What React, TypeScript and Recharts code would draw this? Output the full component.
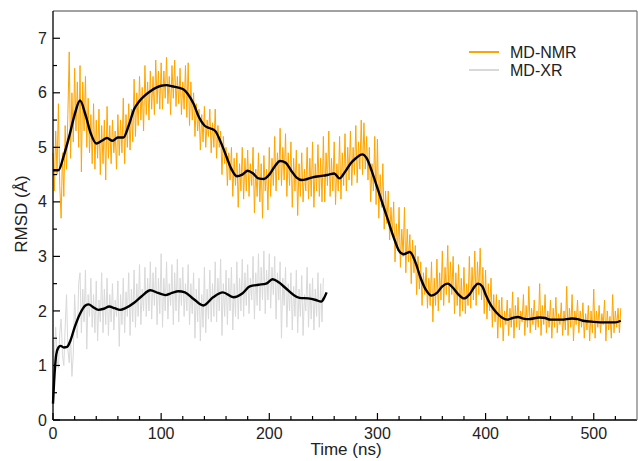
/* ============================================================
   RmsdTimeChart — RMSD over simulation time, MD-NMR vs MD-XR
   Raw traces + smoothed running curves, Recharts LineChart.
   ============================================================ */

import { LineChart, Line, XAxis, YAxis } from "recharts";

// raw traces are sampled every 1.25 ns starting at t = 0
const SAMPLE_STEP_NS = 1.25;

const NMR_RMSD = [
  4.9, 4.2, 5.3, 4.5, 5.8, 4.3, 3.7, 4.9, 4.1, 5.4, 4.6, 5.6, 6.75, 4.8, 6.0, 5.1, 6.45, 5.3, 6.2, 5.0,
  6.5, 4.55, 6.2, 5.3, 6.3, 5.0, 5.9, 4.9, 5.6, 4.7, 5.8, 4.6, 5.5, 4.8, 5.7, 4.5, 5.4, 4.7, 5.5, 4.4,
  5.75, 4.8, 5.4, 4.7, 5.5, 4.9, 5.3, 4.6, 5.6, 4.85, 5.5, 4.9, 5.9, 4.7, 5.6, 5.0, 5.8, 4.95, 5.7, 5.1,
  6.25, 5.2, 6.0, 5.4, 6.3, 5.5, 6.1, 5.3, 6.5, 5.6, 6.2, 5.5, 6.4, 5.7, 6.3, 5.6, 6.6, 5.8, 6.4, 5.7,
  6.55, 5.7, 6.4, 5.9, 6.65, 5.8, 6.3, 5.6, 6.5, 5.9, 6.6, 5.75, 6.3, 5.8, 6.45, 5.6, 6.2, 5.7, 6.5, 5.55,
  6.55, 5.4, 6.2, 5.5, 6.0, 5.2, 5.8, 5.3, 5.7, 4.95, 5.6, 5.1, 5.75, 5.0, 5.5, 5.2, 5.7, 4.9, 5.45, 5.0,
  5.7, 4.8, 5.4, 5.0, 5.3, 4.5, 5.2, 4.7, 5.0, 4.3, 4.9, 4.4, 5.0, 4.1, 4.8, 4.3, 4.9, 3.9, 4.7, 4.2,
  5.0, 4.05, 4.8, 4.2, 4.95, 4.1, 4.7, 4.3, 5.0, 3.8, 4.6, 4.1, 4.9, 4.0, 4.7, 3.7, 4.85, 4.2, 4.6, 3.85,
  5.0, 4.1, 4.8, 4.3, 5.2, 4.2, 4.9, 4.4, 5.35, 4.3, 5.0, 4.4, 5.25, 4.1, 4.9, 4.3, 5.1, 3.9, 4.8, 4.2,
  4.95, 3.75, 4.7, 4.1, 4.9, 4.0, 4.6, 4.2, 5.0, 4.05, 4.8, 4.1, 5.1, 3.9, 4.7, 4.2, 5.05, 4.1, 4.8, 4.0,
  5.2, 4.0, 4.9, 4.3, 5.3, 4.1, 4.8, 4.2, 5.1, 3.95, 4.7, 4.2, 5.2, 4.05, 4.9, 4.3, 5.25, 4.2, 5.0, 4.4,
  5.3, 4.3, 5.0, 4.5, 5.4, 4.35, 5.1, 4.6, 5.5, 4.5, 5.45, 4.6, 5.2, 4.4, 5.0, 4.0, 4.7, 4.2, 5.2, 3.95,
  5.15, 3.7, 4.5, 3.9, 4.7, 3.5, 4.2, 3.6, 4.2, 3.3, 3.9, 3.4, 4.0, 2.9, 3.6, 3.1, 3.9, 2.8, 3.5, 3.0,
  3.9, 2.7, 3.5, 2.9, 3.4, 2.5, 3.3, 2.7, 3.2, 2.3, 3.0, 2.4, 2.9, 2.1, 2.7, 2.3, 2.8, 2.05, 2.6, 2.1,
  2.9, 1.8, 2.6, 2.1, 2.95, 2.0, 2.7, 2.2, 3.1, 2.1, 2.8, 2.3, 3.2, 2.15, 2.9, 2.3, 3.0, 1.95, 2.7, 2.1,
  2.85, 1.9, 2.6, 2.0, 2.8, 1.95, 2.5, 2.1, 3.0, 2.05, 2.8, 2.2, 3.1, 2.1, 2.9, 2.3, 3.15, 2.2, 2.8, 1.95,
  2.75, 1.85, 2.5, 2.0, 2.6, 1.7, 2.3, 1.8, 2.3, 1.5, 2.2, 1.7, 2.25, 1.45, 2.0, 1.75, 2.2, 1.55, 2.05, 1.7,
  2.35, 1.5, 2.1, 1.7, 2.25, 1.65, 2.0, 1.8, 2.3, 1.55, 2.1, 1.7, 2.45, 1.6, 2.05, 1.75, 2.2, 1.65, 2.0, 1.7,
  2.5, 1.55, 2.1, 1.75, 2.3, 1.6, 2.0, 1.7, 2.2, 1.5, 2.05, 1.7, 2.25, 1.6, 1.95, 1.75, 2.15, 1.55, 2.0, 1.65,
  2.45, 1.55, 2.05, 1.7, 2.3, 1.45, 2.0, 1.75, 2.2, 1.6, 2.0, 1.7, 2.15, 1.5, 1.95, 1.65, 2.1, 1.45, 2.0, 1.6,
  2.4, 1.5, 2.0, 1.7, 2.1, 1.6, 1.95, 1.75, 2.2, 1.45, 2.0, 1.65, 1.9, 1.5, 2.3, 1.6, 2.0, 1.7, 2.05, 1.6,
  2.05,
];

const XR_RMSD = [
  0.3, 1.2, 1.7, 1.1, 0.95, 1.6, 1.85, 1.2, 1.0, 1.7, 2.3, 1.3, 1.05, 1.5, 0.8, 1.2, 2.3, 1.7, 1.5, 2.5,
  2.7, 1.6, 2.4, 1.8, 2.75, 1.3, 2.3, 1.9, 2.6, 1.7, 2.3, 1.6, 2.55, 1.45, 2.2, 1.8, 2.7, 1.6, 2.4, 1.75,
  2.6, 1.55, 2.3, 1.8, 2.5, 1.65, 2.2, 1.9, 2.55, 1.35, 2.3, 1.75, 2.6, 1.6, 2.35, 1.9, 2.7, 1.55, 2.4, 1.8,
  2.75, 1.7, 2.5, 1.9, 2.85, 1.75, 2.4, 2.0, 2.8, 1.9, 2.6, 2.0, 2.9, 1.85, 2.7, 2.1, 2.8, 1.75, 2.6, 1.95,
  3.05, 1.7, 2.6, 2.0, 2.9, 1.85, 2.5, 2.1, 2.85, 1.75, 2.7, 2.0, 2.95, 1.8, 2.6, 2.1, 2.8, 1.9, 2.5, 2.0,
  2.85, 1.75, 2.5, 1.95, 2.7, 1.5, 2.4, 1.8, 2.6, 1.45, 2.3, 1.7, 2.8, 1.6, 2.4, 1.85, 2.75, 1.8, 2.5, 1.9,
  2.9, 1.8, 2.6, 2.0, 2.95, 1.55, 2.5, 1.9, 2.75, 1.75, 2.6, 2.0, 2.8, 1.65, 2.5, 1.9, 2.9, 1.85, 2.6, 2.0,
  2.95, 1.9, 2.7, 2.1, 2.85, 1.95, 2.6, 2.2, 3.0, 1.85, 2.7, 2.1, 3.05, 2.0, 2.8, 2.2, 3.1, 1.95, 2.75, 2.2,
  3.05, 2.05, 2.8, 2.3, 3.0, 1.85, 2.7, 2.2, 2.9, 1.5, 2.6, 2.1, 2.8, 1.7, 2.5, 2.0, 2.7, 1.65, 2.45, 1.9,
  2.75, 1.6, 2.4, 1.9, 2.65, 1.55, 2.3, 2.0, 2.8, 1.7, 2.5, 1.85, 2.6, 1.65, 2.4, 1.9, 2.7, 1.7, 2.5, 1.8,
  2.6,
];

// smoothed (running average) curves
const NMR_SMOOTH_T = [
  0, 5, 10, 15, 20, 25, 30, 35, 40, 45, 50, 55, 60, 65, 70, 75, 80, 90, 100, 105,
  110, 120, 125, 130, 135, 140, 145, 150, 155, 160, 165, 170, 175, 180, 185, 190,
  195, 200, 205, 210, 215, 220, 225, 230, 235, 240, 250, 255, 260, 265, 270, 275,
  280, 286, 290, 295, 300, 305, 310, 315, 320, 324, 330, 335, 340, 345, 350, 355,
  360, 365, 370, 375, 380, 385, 390, 393, 397, 400, 405, 410, 415, 420, 425, 430,
  435, 440, 450, 455, 460, 470, 480, 485, 490, 500, 510, 520, 525,
];
const NMR_SMOOTH_V = [
  4.58, 4.58, 4.85, 5.2, 5.6, 5.86, 5.6, 5.25, 5.07, 5.12, 5.17, 5.12, 5.18, 5.18,
  5.4, 5.7, 5.85, 6.03, 6.13, 6.14, 6.12, 6.07, 5.97, 5.8, 5.55, 5.4, 5.35, 5.3,
  5.1, 4.85, 4.6, 4.47, 4.5, 4.57, 4.52, 4.43, 4.42, 4.5, 4.65, 4.75, 4.72, 4.58,
  4.45, 4.4, 4.42, 4.45, 4.48, 4.5, 4.52, 4.43, 4.55, 4.7, 4.8, 4.87, 4.8, 4.55,
  4.25, 3.95, 3.65, 3.35, 3.1, 3.04, 3.08, 2.9, 2.6, 2.38, 2.28, 2.33, 2.45, 2.5,
  2.42, 2.3, 2.23, 2.3, 2.45, 2.5, 2.45, 2.3, 2.1, 1.97, 1.88, 1.84, 1.87, 1.89,
  1.86, 1.85, 1.88, 1.87, 1.84, 1.84, 1.86, 1.85, 1.82, 1.8, 1.79, 1.79, 1.82,
];

const XR_SMOOTH_T = [
  0, 1, 2, 3, 5, 7, 10, 13, 16, 20, 25, 30, 33, 37, 42, 47, 52, 57, 62, 67, 75, 82,
  90, 97, 104, 110, 116, 122, 130, 139, 148, 157, 167, 175, 182, 190, 197, 203, 209,
  215, 222, 228, 236, 243, 248, 251, 253,
];
const XR_SMOOTH_V = [
  0.3, 0.7, 1.0, 1.2, 1.33, 1.36, 1.33, 1.34, 1.45, 1.7, 1.95, 2.1, 2.12, 2.07, 2.02,
  2.04, 2.08, 2.05, 2.02, 2.05, 2.15, 2.27, 2.38, 2.33, 2.29, 2.33, 2.36, 2.34, 2.22,
  2.1, 2.25, 2.34, 2.25, 2.32, 2.45, 2.48, 2.5, 2.58, 2.52, 2.42, 2.3, 2.24, 2.23,
  2.2, 2.17, 2.25, 2.34,
];

const X_TICKS = [
  0, 20, 40, 60, 80, 100, 120, 140, 160, 180, 200, 220, 240, 260, 280, 300, 320,
  340, 360, 380, 400, 420, 440, 460, 480, 500, 520,
];
const Y_TICKS = [0, 0.5, 1, 1.5, 2, 2.5, 3, 3.5, 4, 4.5, 5, 5.5, 6, 6.5, 7];

const SERIES_NAMES = ["MD-NMR", "MD-XR"];
const NMR_COLOR = "#ffa500";
const XR_COLOR = "#d9d9d9";
const FONT = "'Liberation Sans', Arial, Helvetica, sans-serif";

// plot box in page pixels
const PLOT = { left: 53, top: 11, right: 637, bottom: 420 };
const WIDTH = 638;
const HEIGHT = 461;

const toRaw = (vals: number[]) =>
  vals.map((v, i) => ({ t: i * SAMPLE_STEP_NS, v }));
const toPairs = (ts: number[], vs: number[]) =>
  ts.map((t, i) => ({ t, v: vs[i] }));

const XTick = (props: any) => {
  const { x, payload } = props;
  const major = payload.value % 100 === 0;
  return (
    <g>
      <line
        x1={x}
        x2={x}
        y1={PLOT.bottom}
        y2={PLOT.bottom - (major ? 7 : 4)}
        stroke="#000"
        strokeWidth={1.2}
      />
      {major && (
        <text
          x={x}
          y={PLOT.bottom + 19}
          textAnchor="middle"
          fill="#222"
          fontSize={16}
          fontFamily={FONT}
        >
          {payload.value}
        </text>
      )}
    </g>
  );
};

const YTick = (props: any) => {
  const { y, payload } = props;
  const major = Number.isInteger(payload.value);
  return (
    <g>
      <line
        x1={PLOT.left}
        x2={PLOT.left + (major ? 7 : 4)}
        y1={y}
        y2={y}
        stroke="#000"
        strokeWidth={1.2}
      />
      {major && (
        <text
          x={PLOT.left - 6}
          y={y}
          dy="0.35em"
          textAnchor="end"
          fill="#222"
          fontSize={16}
          fontFamily={FONT}
        >
          {payload.value}
        </text>
      )}
    </g>
  );
};

export default function App() {
  const nmrRaw = toRaw(NMR_RMSD);
  const xrRaw = toRaw(XR_RMSD);
  const nmrSmooth = toPairs(NMR_SMOOTH_T, NMR_SMOOTH_V);
  const xrSmooth = toPairs(XR_SMOOTH_T, XR_SMOOTH_V);

  return (
    <div
      style={{
        position: "absolute",
        left: 0,
        top: 0,
        width: WIDTH,
        height: HEIGHT,
        background: "#fff",
      }}
    >
      <LineChart
        width={WIDTH}
        height={HEIGHT}
        margin={{
          top: PLOT.top - 1,
          right: WIDTH - PLOT.right - 1,
          bottom: HEIGHT - PLOT.bottom - 1,
          left: PLOT.left - 1,
        }}
      >
        <XAxis
          dataKey="t"
          type="number"
          domain={[0, 540]}
          ticks={X_TICKS}
          interval={0}
          height={1}
          tick={XTick}
          tickLine={false}
          axisLine={{ stroke: "#000", strokeWidth: 1.3 }}
          allowDuplicatedCategory={false}
        />
        <XAxis
          xAxisId="top"
          orientation="top"
          dataKey="t"
          type="number"
          domain={[0, 540]}
          height={1}
          tick={false}
          tickLine={false}
          axisLine={{ stroke: "#444", strokeWidth: 1.2 }}
        />
        <YAxis
          type="number"
          domain={[0, 7.5]}
          ticks={Y_TICKS}
          interval={0}
          width={1}
          tick={YTick}
          tickLine={false}
          axisLine={{ stroke: "#000", strokeWidth: 1.3 }}
        />
        <YAxis
          yAxisId="right"
          orientation="right"
          type="number"
          domain={[0, 7.5]}
          width={1}
          tick={false}
          tickLine={false}
          axisLine={{ stroke: "#777", strokeWidth: 1.2 }}
        />

        <Line
          data={nmrRaw}
          dataKey="v"
          type="linear"
          stroke={NMR_COLOR}
          strokeWidth={1}
          dot={false}
          isAnimationActive={false}
        />
        <Line
          data={xrRaw}
          dataKey="v"
          type="linear"
          stroke={XR_COLOR}
          strokeWidth={1}
          dot={false}
          isAnimationActive={false}
        />
        <Line
          data={nmrSmooth}
          dataKey="v"
          type="monotone"
          stroke="#000"
          strokeWidth={2.4}
          dot={false}
          isAnimationActive={false}
        />
        <Line
          data={xrSmooth}
          dataKey="v"
          type="monotone"
          stroke="#000"
          strokeWidth={2.4}
          dot={false}
          isAnimationActive={false}
        />
      </LineChart>

      {/* axis titles + legend drawn on top */}
      <svg
        width={WIDTH}
        height={HEIGHT}
        style={{ position: "absolute", left: 0, top: 0, pointerEvents: "none" }}
      >
        <text
          x={346}
          y={455}
          textAnchor="middle"
          fill="#222"
          fontSize={17}
          fontFamily={FONT}
        >
          Time (ns)
        </text>
        <text
          transform="translate(27, 214) rotate(-90)"
          textAnchor="middle"
          fill="#222"
          fontSize={17}
          fontFamily={FONT}
        >
          RMSD (Å)
        </text>
        {SERIES_NAMES.map((name, i) => (
          <g key={name}>
            <line
              x1={469}
              x2={499}
              y1={52 + i * 18}
              y2={52 + i * 18}
              stroke={i === 0 ? NMR_COLOR : XR_COLOR}
              strokeWidth={2}
            />
            <text
              x={510}
              y={52 + i * 18}
              dy="0.35em"
              fill="#222"
              fontSize={16}
              fontFamily={FONT}
            >
              {name}
            </text>
          </g>
        ))}
      </svg>
    </div>
  );
}
